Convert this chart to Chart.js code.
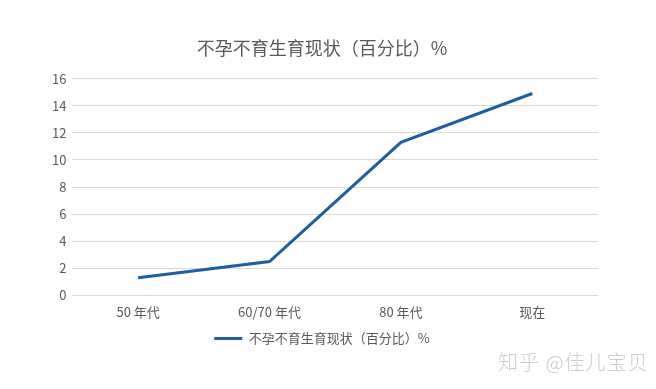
<!DOCTYPE html>
<html lang="zh">
  <head>
    <meta charset="UTF-8" />
    <title>不孕不育生育现状</title>
    <script src="https://cdn.jsdelivr.net/npm/chart.js"></script>
    <style>
      html, body {
        margin: 0;
        padding: 0;
        background: #fff;
      }
      .wrap {
        position: relative;
        width: 656px;
        height: 389px;
      }
      .mark {
        position: absolute;
        left: 498px;
        top: 347px;
        font-family: "Noto Sans CJK SC", sans-serif;
        font-weight: 300;
        font-size: 20px;
        color: #cdcdcd;
        letter-spacing: 1px;
      }
    </style>
  </head>
  <body>
    <div class="wrap">
      <canvas id="chart" width="656" height="389"></canvas>
      <div class="mark">知乎 @佳儿宝贝</div>
    </div>
    <script>
      const periods = ["50 年代", "60/70 年代", "80 年代", "现在"];
      const rates = [1.3, 2.5, 11.3, 14.9];
      const seriesName = "不孕不育生育现状（百分比）%";

      const font = "'Noto Sans CJK SC', 'Noto Sans', sans-serif";

      new Chart(document.getElementById("chart"), {
        type: "line",
        data: {
          labels: periods,
          datasets: [{
            label: seriesName,
            data: rates,
            borderColor: "#1f5fa0",
            backgroundColor: "#1f5fa0",
            borderWidth: 3,
            pointRadius: 0,
            tension: 0,
          }],
        },
        options: {
          responsive: false,
          animation: false,
          layout: { padding: { left: 46, right: 58, top: 27, bottom: 34 } },
          plugins: {
            title: {
              display: true,
              text: seriesName,
              color: "#595959",
              font: { family: font, size: 18, weight: "normal" },
              padding: { top: 10, bottom: 20 },
            },
            legend: {
              position: "bottom",
              labels: {
                color: "#595959",
                font: { family: font, size: 13 },
                boxWidth: 28,
                boxHeight: 0,
                padding: 11,
              },
            },
            tooltip: { enabled: false },
          },
          scales: {
            x: {
              offset: true,
              grid: { display: false },
              border: { display: false },
              ticks: { color: "#595959", font: { family: font, size: 13 }, padding: 1 },
            },
            y: {
              min: 0,
              max: 16,
              ticks: { stepSize: 2, color: "#595959", font: { family: font, size: 13 }, padding: 6 },
              grid: { color: "#d9d9d9", drawTicks: false },
              border: { display: false },
            },
          },
        },
      });
    </script>
  </body>
</html>
